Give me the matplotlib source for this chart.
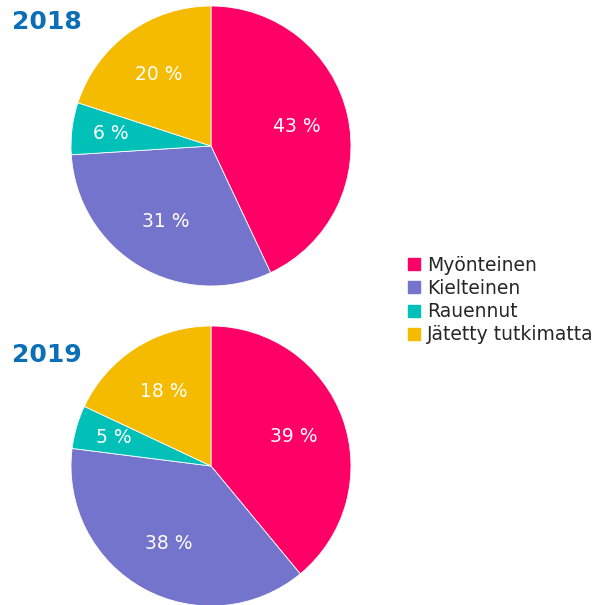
import numpy as np
import matplotlib
matplotlib.use("Agg")
import matplotlib.pyplot as plt
from matplotlib.lines import Line2D

categories = ["Myönteinen", "Kielteinen", "Rauennut", "Jätetty tutkimatta"]
years = ["2018", "2019"]
values_2018 = [43, 31, 6, 20]
values_2019 = [39, 38, 5, 18]
colors = ["#ff0066", "#7474cc", "#00c0b8", "#f5bb00"]

W, H = 615, 605
fig = plt.figure(figsize=(W / 100, H / 100), dpi=100)
ax = fig.add_axes([0, 0, 1, 1])

# pie centers/radius in pixel coords (y measured from top)
centers = [(211, H - 146), (211, H - 466)]
radius = 140
title_pos = [(12, H - 22), (12, H - 355)]

for vals, year, c, tp in zip([values_2018, values_2019], years, centers, title_pos):
    wedges, _ = ax.pie(vals, colors=colors, startangle=90, counterclock=False,
                       center=c, radius=radius,
                       wedgeprops=dict(linewidth=0.6, edgecolor="white"))
    total = sum(vals)
    for w, v in zip(wedges, vals):
        ang = np.deg2rad((w.theta1 + w.theta2) / 2)
        frac = v / total
        d = 0.72 if frac < 0.1 else 0.63
        ax.text(c[0] + d * radius * np.cos(ang), c[1] + d * radius * np.sin(ang),
                f"{v} %", color="white", fontsize=13.5, ha="center", va="center")
    ax.text(tp[0], tp[1], year, fontsize=18, fontweight="bold", color="#0a6fb7",
            ha="left", va="center")

ax.set_xlim(0, W)
ax.set_ylim(0, H)
ax.set_aspect("equal")
ax.axis("off")

handles = [Line2D([], [], marker="s", linestyle="", markersize=9,
                  markerfacecolor=col, markeredgecolor=col) for col in colors]
ax.legend(handles, categories, loc="center left", bbox_to_anchor=(398 / W, 1 - 300 / H),
          frameon=False, fontsize=13.5, handlelength=0.7, handletextpad=0.35,
          labelspacing=0.22, borderpad=0, labelcolor="#262626")

fig.savefig("out.png", dpi=100)
